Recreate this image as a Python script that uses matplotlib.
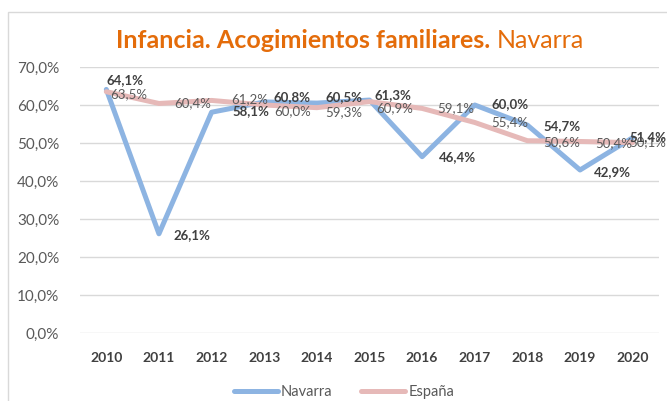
import matplotlib
matplotlib.use("Agg")
import matplotlib.pyplot as plt
from matplotlib.patches import Rectangle
from matplotlib.ticker import FuncFormatter

years = ["2010", "2011", "2012", "2013", "2014", "2015", "2016", "2017", "2018", "2019", "2020"]
navarra = [64.1, 26.1, 58.1, 60.8, 60.5, 61.3, 46.4, 60.0, 54.7, 42.9, 51.4]
espana = [63.5, 60.4, 61.2, 60.0, 59.3, 60.9, 59.1, 55.4, 50.6, 50.4, 50.1]

# label offsets in pixels (dx, dy with y up)
nav_off = [(19, 9), (33, -1), (39, 1), (28, 5), (27, 6), (23, 5), (35, 0), (35, 1), (35, -1), (32, -2), (15, 1)]
esp_off = [(22, -2), (34, 0), (38, 1), (28, -6), (27, -4), (25, -7), (34, 0), (35, 0), (34, -1), (34, -2), (15, 0)]

BLUE = "#8DB4E2"
PINK = "#E6B9B8"
ORANGE = "#E46C0A"
GRAY = "#595959"
DARK = "#404040"

plt.rcParams["font.family"] = ["Lato", "DejaVu Sans"]

W, H = 667, 401
fig = plt.figure(figsize=(W / 100, H / 100), dpi=100)
fig.patches.append(Rectangle((8 / W, -0.2), 1.2, 1.2 - 12 / H, transform=fig.transFigure,
                             fill=False, edgecolor="#D9D9D9", linewidth=1.0))

ax = fig.add_axes([80 / W, (H - 333) / H, 579 / W, 266 / H])
x = list(range(len(years)))

ax.plot(x, navarra, color=BLUE, linewidth=3.6, solid_joinstyle="round", solid_capstyle="round",
        label="Navarra", zorder=3)
ax.plot(x, espana, color=PINK, linewidth=3.6, solid_joinstyle="round", solid_capstyle="round",
        label="España", zorder=4)

for i, v in enumerate(navarra):
    ax.annotate(f"{v:.1f}%".replace(".", ","), (i, v), xytext=nav_off[i], textcoords="offset pixels",
                ha="center", va="center", fontsize=9.5, fontweight="bold", color=DARK, zorder=6)
for i, v in enumerate(espana):
    ax.annotate(f"{v:.1f}%".replace(".", ","), (i, v), xytext=esp_off[i], textcoords="offset pixels",
                ha="center", va="center", fontsize=9.5, color=GRAY, zorder=5)

ax.set_xlim(-0.5, len(years) - 0.5)
ax.set_ylim(0, 70)
ax.set_yticks(range(0, 71, 10))
ax.yaxis.set_major_formatter(FuncFormatter(lambda v, p: f"{v:.1f}%".replace(".", ",")))
ax.set_xticks(x)
ax.set_xticklabels(years, fontweight="bold")
ax.tick_params(axis="y", length=0, colors=GRAY, labelsize=11, pad=15)
ax.tick_params(axis="x", length=0, labelcolor=DARK, labelsize=10, pad=14)
ax.grid(axis="y", color="#D9D9D9", linewidth=1)
ax.set_axisbelow(True)
for s in ax.spines.values():
    s.set_visible(False)

fig.text(490 / W, 1 - 41 / H, "Infancia. Acogimientos familiares.", ha="right", va="center",
         fontsize=18, fontweight="bold", color=ORANGE)
fig.text(497 / W, 1 - 41 / H, "Navarra", ha="left", va="center", fontsize=18, color=ORANGE)

fig.legend(loc="center", bbox_to_anchor=(344 / W, 1 - 392 / H), ncol=2, frameon=False,
           fontsize=10.5, handlelength=3, columnspacing=2.0, labelcolor=GRAY, handletextpad=0.2)

fig.savefig("out.png", dpi=100)
